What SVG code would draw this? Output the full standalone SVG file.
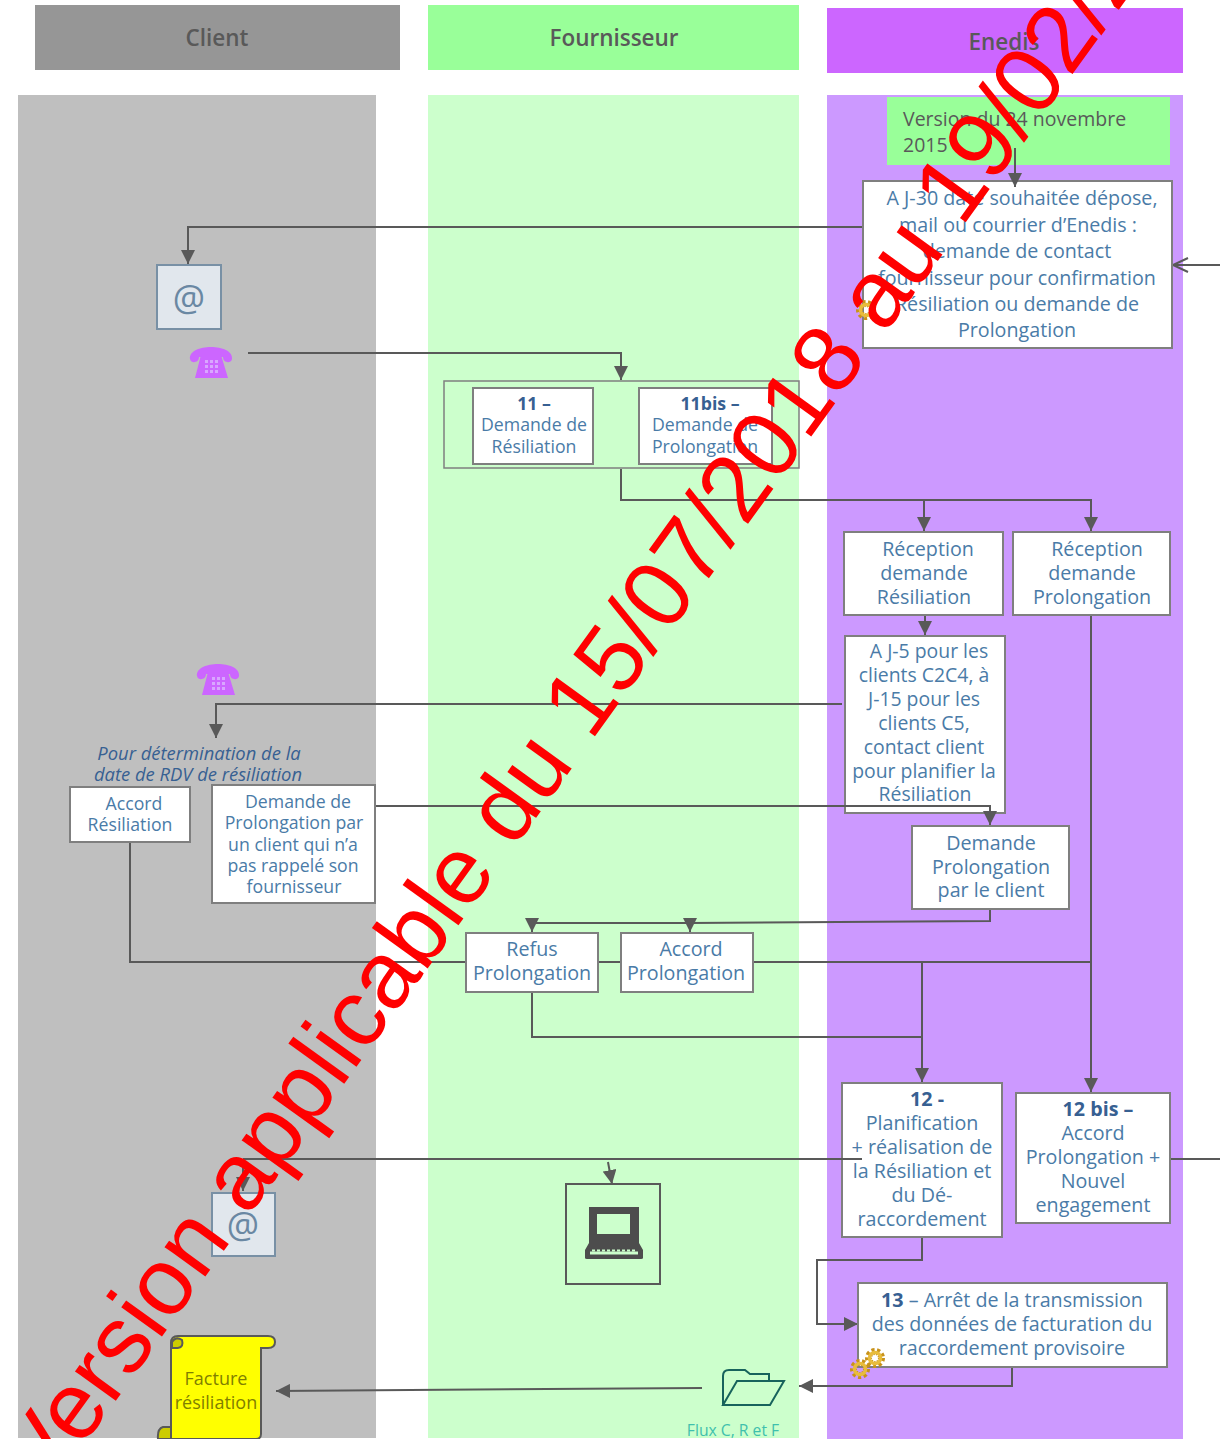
<svg xmlns="http://www.w3.org/2000/svg" width="1220" height="1439" viewBox="0 0 1220 1439">
<style>
text{font-family:"Open Sans","Liberation Sans",sans-serif}
.t{font-size:19.7px;fill:#4a7ba7;text-anchor:middle}
.s{font-size:17.7px;fill:#4a7ba7;text-anchor:middle}
.b{font-weight:700;fill:#376092}
.h{font-size:22.5px;font-weight:600;fill:#595959;text-anchor:middle}
.box{fill:#fff;stroke:#7f7f7f;stroke-width:2}
.c{fill:none;stroke:#595959;stroke-width:2}
.wm{font-family:"Liberation Sans",Arial,sans-serif;font-size:95px;fill:#f00}
.mail{fill:#e1e7ed;stroke:#7890a5;stroke-width:2}
.at{font-size:36px;text-anchor:middle;fill:#6a88a3}
</style>
<defs>
<marker id="a" markerUnits="userSpaceOnUse" markerWidth="16" markerHeight="14" refX="14" refY="7" orient="auto"><path d="M0 0L14 7L0 14Z" fill="#595959"/></marker>
<marker id="o" markerUnits="userSpaceOnUse" markerWidth="20" markerHeight="18" refX="17" refY="9" orient="auto"><path d="M2 2L17 9L2 16" fill="none" stroke="#595959" stroke-width="2"/></marker>
<g id="gear"><circle r="6.5" fill="none" stroke="#c8921a" stroke-width="7" stroke-dasharray="2.5 2"/><circle r="5.5" fill="none" stroke="#e8bc3c" stroke-width="3.5"/></g>
<g id="phone"><path d="M0 13C-2 -3 44 -3 42 13C41 18 33 17 33 11H9C9 17 1 18 0 13Z"/><path d="M11 9H31L38 32H5Z"/><g fill="#d9a6ff"><rect x="15" y="14" width="3" height="3"/><rect x="20" y="14" width="3" height="3"/><rect x="25" y="14" width="3" height="3"/><rect x="15" y="19" width="3" height="3"/><rect x="20" y="19" width="3" height="3"/><rect x="25" y="19" width="3" height="3"/><rect x="15" y="24" width="3" height="3"/><rect x="20" y="24" width="3" height="3"/><rect x="25" y="24" width="3" height="3"/></g></g>
</defs>
<g id="lanes">
<rect x="35" y="5" width="365" height="65" fill="#969696"/>
<rect x="428" y="5" width="371" height="65" fill="#99ff99"/>
<rect x="827" y="8" width="356" height="65" fill="#cc66ff"/>
<rect x="18" y="95" width="358" height="1343" fill="#bfbfbf"/>
<rect x="428" y="95" width="371" height="1343" fill="#ccffcc"/>
<rect x="827" y="95" width="356" height="1344" fill="#cc99ff"/>
<text class="h" x="217" y="46">Client</text>
<text class="h" x="614" y="46">Fournisseur</text>
<text class="h" x="1004" y="50">Enedis</text>
</g>
<g id="connectors">
<path class="c" d="M862 227H188V264" marker-end="url(#a)"/>
<path class="c" d="M1220 265H1173" marker-end="url(#o)"/>
<path class="c" d="M248 353H621V380" marker-end="url(#a)"/>
<path class="c" d="M621 469V500H1091V531" marker-end="url(#a)"/>
<path class="c" d="M924 500V531" marker-end="url(#a)"/>
<path class="c" d="M925 615V635" marker-end="url(#a)"/>
<path class="c" d="M842 704H216V738" marker-end="url(#a)"/>
<path class="c" d="M990 909V921L690 923"/>
<path class="c" d="M690 923H532V932" marker-end="url(#a)"/>
<path class="c" d="M690 923V932" marker-end="url(#a)"/>
<path class="c" d="M130 842V962H1091"/>
<path class="c" d="M1091 615V1092" marker-end="url(#a)"/>
<path class="c" d="M922 962V1082" marker-end="url(#a)"/>
<path class="c" d="M532 992V1037H922"/>
<path class="c" d="M243 1159V1191" marker-end="url(#a)"/>
<path class="c" d="M608 1162L612 1184" marker-end="url(#a)"/>
<path class="c" d="M1170 1159H1220"/>
<path class="c" d="M922 1238V1260H817V1324H858" marker-end="url(#a)"/>
<path class="c" d="M1012 1368V1386H799" marker-end="url(#a)"/>
<path class="c" d="M702 1388L276 1391" marker-end="url(#a)"/>
</g>
<g id="version"><rect x="887" y="97" width="283" height="68" fill="#99ff99"/>
<text x="903" y="126" style="font-size:19.5px" fill="#595959">Version du 24 novembre</text><text x="903" y="152" style="font-size:19.5px" fill="#595959">2015</text></g>
<g id="n-j30"><rect class="box" x="863" y="181" width="309" height="167"/>
<text class="t"><tspan x="1022" y="205">A J-30 date souhaitée dépose,</tspan><tspan x="1018" y="232">mail ou courrier d’Enedis :</tspan><tspan x="1017" y="258">demande de contact</tspan><tspan x="1017" y="285">fournisseur pour confirmation</tspan><tspan x="1017" y="311">Résiliation ou demande de</tspan><tspan x="1017" y="337">Prolongation</tspan></text>
<use href="#gear" x="866" y="310"/></g>
<g id="mail1"><rect class="mail" x="157" y="265" width="64" height="64"/><text class="at" x="189" y="311">@</text></g>
<g id="phone1" fill="#cc66ff"><use href="#phone" x="190" y="346"/></g>
<g id="phone2" fill="#cc66ff"><use href="#phone" x="197" y="663"/></g>
<g id="group11"><rect x="444" y="381" width="355" height="87" fill="none" stroke="#7f7f7f" stroke-width="1.5"/></g>
<g id="n11"><rect class="box" x="473" y="388" width="120" height="76"/><text class="s"><tspan class="b" x="534" y="410">11 –</tspan><tspan x="534" y="431">Demande de</tspan><tspan x="534" y="453">Résiliation</tspan></text></g>
<g id="n11bis"><rect class="box" x="639" y="388" width="133" height="76"/><text class="s"><tspan class="b" x="710" y="410">11bis –</tspan><tspan x="705" y="431">Demande de</tspan><tspan x="705" y="453">Prolongation</tspan></text></g>
<g id="n-rec-res"><rect class="box" x="844" y="532" width="159" height="83"/><text class="t"><tspan x="928" y="556">Réception</tspan><tspan x="924" y="580">demande</tspan><tspan x="924" y="604">Résiliation</tspan></text></g>
<g id="n-rec-pro"><rect class="box" x="1013" y="532" width="157" height="83"/><text class="t"><tspan x="1097" y="556">Réception</tspan><tspan x="1092" y="580">demande</tspan><tspan x="1092" y="604">Prolongation</tspan></text></g>
<g id="n-j5"><rect class="box" x="845" y="636" width="160" height="177"/><text class="t" style="font-size:19.4px"><tspan x="929" y="658">A J-5 pour les</tspan><tspan x="924" y="682">clients C2C4, à</tspan><tspan x="924" y="706">J-15 pour les</tspan><tspan x="924" y="730">clients C5,</tspan><tspan x="924" y="754">contact client</tspan><tspan x="924" y="778">pour planifier la</tspan><tspan x="925" y="801">Résiliation</tspan></text></g>
<g id="note"><text style="font-size:18.4px;font-style:italic;text-anchor:middle" fill="#376092"><tspan x="199" y="760">Pour détermination de la</tspan><tspan x="198" y="781">date de RDV de résiliation</tspan></text></g>
<g id="n-accord-res"><rect class="box" x="70" y="787" width="120" height="55"/><text class="s"><tspan x="134" y="810">Accord</tspan><tspan x="130" y="831">Résiliation</tspan></text></g>
<g id="n-dem-client"><rect class="box" x="212" y="785" width="163" height="118"/><text class="s"><tspan x="298" y="808">Demande de</tspan><tspan x="294" y="829">Prolongation par</tspan><tspan x="293" y="851">un client qui n’a</tspan><tspan x="293" y="872">pas rappelé son</tspan><tspan x="294" y="893">fournisseur</tspan></text></g>
<g id="n-dem-pro"><rect class="box" x="912" y="826" width="157" height="83"/><text class="t"><tspan x="991" y="850">Demande</tspan><tspan x="991" y="874">Prolongation</tspan><tspan x="991" y="897">par le client</tspan></text></g>
<g id="n-refus"><rect class="box" x="466" y="933" width="132" height="59"/><text class="t"><tspan x="532" y="956">Refus</tspan><tspan x="532" y="980">Prolongation</tspan></text></g>
<g id="n-accord-pro"><rect class="box" x="621" y="933" width="132" height="59"/><text class="t"><tspan x="691" y="956">Accord</tspan><tspan x="686" y="980">Prolongation</tspan></text></g>
<g id="n12"><rect class="box" x="842" y="1083" width="160" height="154"/><text class="t"><tspan class="b" x="927" y="1106">12 -</tspan><tspan x="922" y="1130">Planification</tspan><tspan x="922" y="1154">+ réalisation de</tspan><tspan x="922" y="1178">la Résiliation et</tspan><tspan x="922" y="1202">du Dé-</tspan><tspan x="922" y="1226">raccordement</tspan></text></g>
<g id="n12bis"><rect class="box" x="1016" y="1093" width="154" height="130"/><text class="t"><tspan class="b" x="1098" y="1116">12 bis –</tspan><tspan x="1093" y="1140">Accord</tspan><tspan x="1093" y="1164">Prolongation +</tspan><tspan x="1093" y="1188">Nouvel</tspan><tspan x="1093" y="1212">engagement</tspan></text></g>
<g id="mail2"><rect class="mail" x="212" y="1193" width="63" height="63"/><text class="at" x="243" y="1238">@</text></g>
<g id="laptop"><rect x="566" y="1184" width="94" height="100" fill="none" stroke="#595959" stroke-width="2"/><path d="M589 1207H639V1243L643 1250V1258Q643 1259 641 1259H587Q585 1259 585 1258V1250L589 1243Z" fill="#4d4d4d"/><rect x="597" y="1214" width="33" height="20" fill="#ccffcc"/><path d="M590 1253H638" stroke="#ccffcc" stroke-width="3" fill="none"/><path d="M592 1250.500H636" stroke="#ccffcc" stroke-width="2" stroke-dasharray="3 2" fill="none"/></g>
<g id="n13"><rect class="box" x="858" y="1283" width="309" height="84"/><text class="t"><tspan x="1012" y="1307"><tspan class="b">13</tspan> – Arrêt de la transmission</tspan><tspan x="1012" y="1331">des données de facturation du</tspan><tspan x="1012" y="1355">raccordement provisoire</tspan></text>
<use href="#gear" x="860" y="1369"/><use href="#gear" x="875" y="1358"/></g>
<g id="folder"><path d="M723 1405V1376Q723 1370 729 1370H745L750 1374H769V1380M723 1405L737 1381H784L770 1405Z" fill="none" stroke="#17635c" stroke-width="2"/><text x="733" y="1436" style="font-size:15.700px;text-anchor:middle" fill="#3fc0ad">Flux C, R et F</text></g>
<g id="facture"><path d="M171 1439V1343Q171 1336 178 1336H268Q275 1336 275 1342Q275 1348 268 1348H261V1434Q261 1439 256 1439Z" fill="#ff0" stroke="#595959" stroke-width="2"/><path d="M171 1427H163Q157 1429 158 1439H171Z" fill="#cccc00" stroke="#595959" stroke-width="2"/><path d="M178 1348H172V1342Q176 1336 182 1340Q184 1347 178 1348" fill="#cccc00" stroke="#595959" stroke-width="2"/>
<text style="font-size:18px;text-anchor:middle" fill="#7f7f00"><tspan x="216" y="1385">Facture</tspan><tspan x="216" y="1409">résiliation</tspan></text></g>
<g id="connectors-over">
<path class="c" d="M1015 148V187" marker-end="url(#a)"/>
<path class="c" d="M376 806H990V825" marker-end="url(#a)"/>
<path class="c" d="M862 1159H243"/>
</g>
<text class="wm" transform="translate(47 1496) rotate(-54.2)">Version applicable du 15/07/2018 au 19/02/2</text>
</svg>
